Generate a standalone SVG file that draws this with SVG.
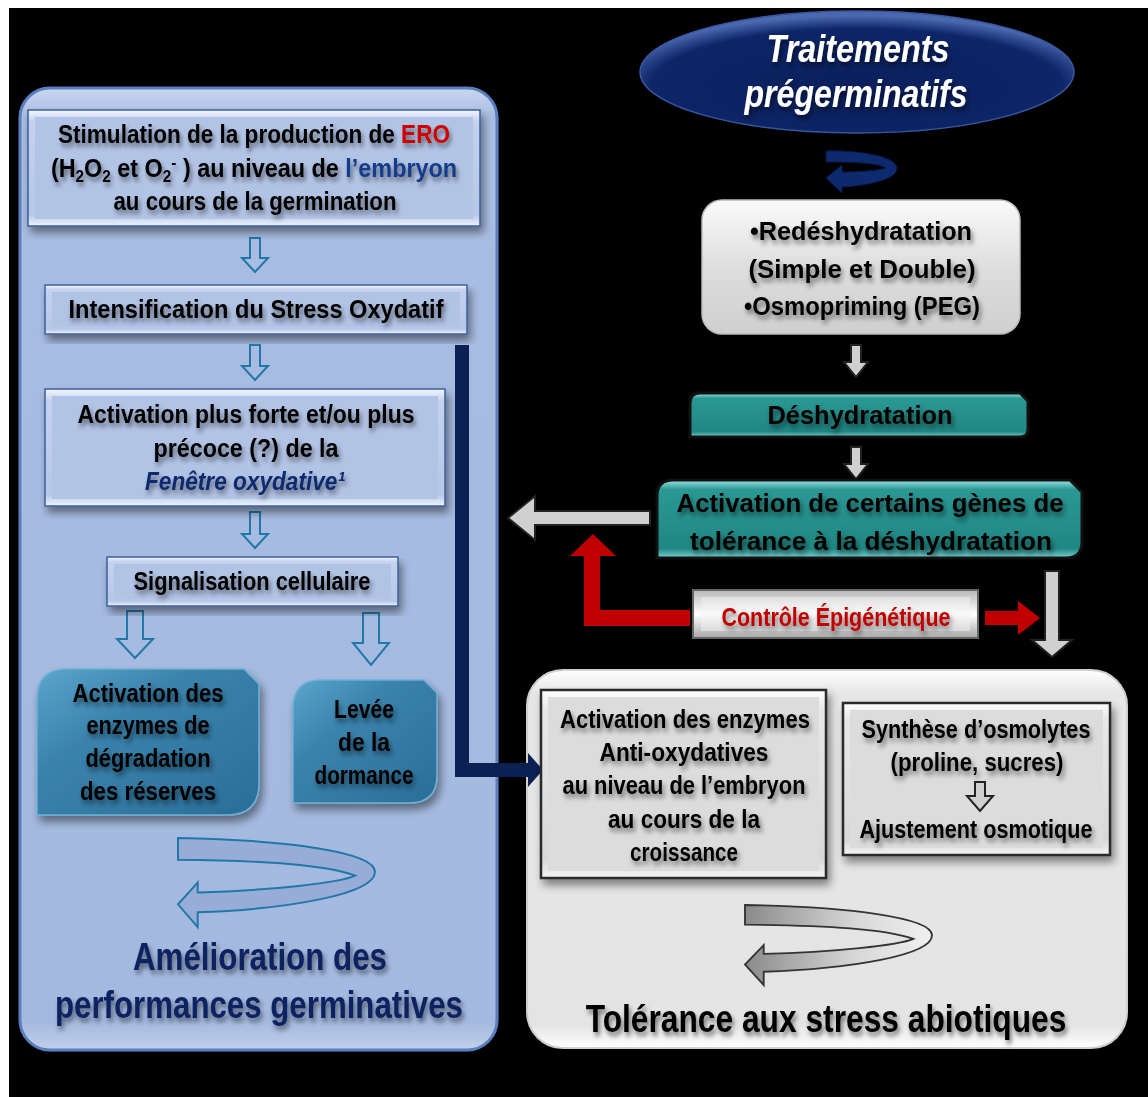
<svg xmlns="http://www.w3.org/2000/svg" width="1148" height="1097" viewBox="0 0 1148 1097">
<defs>
<style>
.t{font-family:"Comic Sans MS","Liberation Sans",sans-serif;font-size:26px;font-weight:bold;text-anchor:middle;fill:#000;filter:url(#ts);}
.big{font-size:38px;}
.bev{fill:url(#bevB);stroke:#3d5f99;stroke-width:1.5;}
.bevin{fill:#b2c4e6;}
.gbox{fill:url(#bevG);stroke:#2a2a2a;stroke-width:2.5;}
.gin{fill:#dcdcdc;}
.ho{fill:none;stroke:#2277aa;stroke-width:2;}
.ga{fill:#d0d0d0;stroke:#222;stroke-width:2;}
.red{fill:#c00000;}
.navy{fill:#0b2154;}
</style>
<filter id="ts" x="-10%" y="-40%" width="125%" height="190%">
<feGaussianBlur in="SourceAlpha" stdDeviation="2.5"/><feOffset dx="2" dy="4"/>
<feComponentTransfer><feFuncA type="linear" slope="0.5"/></feComponentTransfer>
<feMerge><feMergeNode/><feMergeNode in="SourceGraphic"/></feMerge></filter>
<filter id="bs" x="-10%" y="-10%" width="125%" height="130%">
<feGaussianBlur in="SourceAlpha" stdDeviation="4"/><feOffset dx="3" dy="6"/>
<feComponentTransfer><feFuncA type="linear" slope="0.45"/></feComponentTransfer>
<feMerge><feMergeNode/><feMergeNode in="SourceGraphic"/></feMerge></filter>
<linearGradient id="lpanel" x1="0" y1="0" x2="0" y2="1">
<stop offset="0" stop-color="#c9d6ef"/><stop offset="0.03" stop-color="#a9bde2"/><stop offset="0.97" stop-color="#a4b9df"/><stop offset="1" stop-color="#c0cfea"/></linearGradient>
<linearGradient id="rpanel" x1="0" y1="0" x2="0" y2="1">
<stop offset="0" stop-color="#ffffff"/><stop offset="0.06" stop-color="#e6e6e6"/><stop offset="0.94" stop-color="#e4e4e4"/><stop offset="1" stop-color="#ffffff"/></linearGradient>
<linearGradient id="bevB" x1="0" y1="0" x2="0" y2="1">
<stop offset="0" stop-color="#f2f6ff"/><stop offset="0.1" stop-color="#c4d2ee"/><stop offset="0.9" stop-color="#b6c7e7"/><stop offset="1" stop-color="#eef3ff"/></linearGradient>
<linearGradient id="bevG" x1="0" y1="0" x2="0" y2="1">
<stop offset="0" stop-color="#ffffff"/><stop offset="0.1" stop-color="#e8e8e8"/><stop offset="0.9" stop-color="#d8d8d8"/><stop offset="1" stop-color="#f4f4f4"/></linearGradient>
<linearGradient id="wbox" x1="0" y1="0" x2="0" y2="1">
<stop offset="0" stop-color="#fafafa"/><stop offset="0.5" stop-color="#dedede"/><stop offset="1" stop-color="#cfcfcf"/></linearGradient>
<linearGradient id="ctrl" x1="0" y1="0" x2="0" y2="1">
<stop offset="0" stop-color="#b8b8b8"/><stop offset="0.5" stop-color="#ffffff"/><stop offset="1" stop-color="#a8a8a8"/></linearGradient>
<linearGradient id="tealL" x1="0" y1="0" x2="1" y2="1">
<stop offset="0" stop-color="#5aa6cc"/><stop offset="0.35" stop-color="#3a83ad"/><stop offset="1" stop-color="#2a6e99"/></linearGradient>
<linearGradient id="tealR" x1="0" y1="0" x2="0" y2="1">
<stop offset="0" stop-color="#9ee6e6"/><stop offset="0.12" stop-color="#2a9894"/><stop offset="0.88" stop-color="#208783"/><stop offset="1" stop-color="#7fd2d2"/></linearGradient>
<radialGradient id="ell" cx="0.5" cy="0.62" r="0.58">
<stop offset="0" stop-color="#0a1f5c"/><stop offset="0.82" stop-color="#0d2668"/><stop offset="1" stop-color="#4a68b0"/></radialGradient>
<linearGradient id="gcurl" x1="0" y1="0" x2="1" y2="0">
<stop offset="0" stop-color="#8a8a8a"/><stop offset="0.6" stop-color="#d8d8d8"/><stop offset="1" stop-color="#f0f0f0"/></linearGradient>
<path id="curl" d="M0,0 C110,2 200,14 200,34 C200,57 110,72 20,75 L20,90 L0,67 L20,45 L20,55 C95,53 165,45 180,38 C150,27 90,23 0,22 Z"/>
</defs>

<rect x="0" y="0" width="1148" height="1097" fill="#ffffff"/>
<rect x="9" y="8" width="1139" height="1089" fill="#000000"/>

<g id="panel-left">
<rect x="20" y="88" width="477" height="962" rx="30" fill="url(#lpanel)" stroke="#5a7fbf" stroke-width="3" filter="url(#bs)"/>
<text class="t big" x="260" y="970" textLength="254" lengthAdjust="spacingAndGlyphs" style="fill:#0c2060">Amélioration des</text>
<text class="t big" x="259" y="1018" textLength="408" lengthAdjust="spacingAndGlyphs" style="fill:#0c2060">performances germinatives</text>
</g>

<g id="panel-right">
<rect x="527" y="670" width="600" height="378" rx="36" fill="url(#rpanel)" stroke="#cfcfcf" stroke-width="2" filter="url(#bs)"/>
<text class="t big" transform="translate(826,1032) scale(0.835,1)" x="0" y="0">Tolérance aux stress abiotiques</text>
</g>

<g id="connectors">
<path class="ho" d="M250,238 h10 v20 h8 l-13,14 l-13,-14 h8 z"/>
<path class="ho" d="M250,345 h10 v21 h8 l-13,14 l-13,-14 h8 z"/>
<path class="ho" d="M250,512 h10 v22 h8 l-13,14 l-13,-14 h8 z"/>
<path class="ho" d="M127,611 h16 v28 h10 l-18,19 l-18,-19 h10 z"/>
<path class="ho" d="M363,613 h16 v30 h10 l-18,22 l-18,-22 h10 z"/>
<use href="#curl" transform="translate(178,838) scale(0.985,0.99)" fill="#97acd6" stroke="#2277aa" stroke-width="2"/>
<use href="#curl" transform="translate(745,905) scale(0.935,0.89)" fill="url(#gcurl)" stroke="#333" stroke-width="2"/>
<path d="M826,151 C862,150 897,157 897,168 C897,181 862,186 842,187 L842,193 L826,178 L842,165 L842,172 C862,172 880,170 886,168 C878,163 855,162 826,162 Z" fill="#0d2a6e" stroke="#061848" stroke-width="1"/>
<path class="ga" d="M851,345 h10 v17 h7 l-12,15 l-12,-15 h7 z"/>
<path class="ga" d="M851,447 h10 v17 h7 l-12,15 l-12,-15 h7 z"/>
<path class="ga" d="M650,511 v14 h-115 v15 l-27,-22 l27,-22 v15 z"/>
<path class="ga" d="M1045,571 h14 v69 h13 l-20,17 l-20,-17 h13 z"/>
<path class="red" d="M690,610 v16 h-106 v-70 h-14 l23,-22 l23,22 h-16 v54 h90 z"/>
<path class="red" d="M985,611 h33 v-10 l22,17 l-22,17 v-10 h-33 z"/>
<path class="navy" d="M455,345 h14 v418 h59 v-10 l15,17 l-15,17 v-10 h-73 z"/>
</g>

<g id="node-traitements">
<ellipse cx="857" cy="72" rx="217" ry="61" fill="url(#ell)" stroke="#3a55a0" stroke-width="1.5"/>
<text class="t big" x="858" y="62" font-style="italic" textLength="183" lengthAdjust="spacingAndGlyphs" style="fill:#ffffff">Traitements</text>
<text class="t big" x="856" y="107" font-style="italic" textLength="223" lengthAdjust="spacingAndGlyphs" style="fill:#ffffff">prégerminatifs</text>
</g>

<g id="node-redeshydratation">
<rect x="702" y="200" width="318" height="134" rx="20" fill="url(#wbox)" stroke="#bbbbbb" stroke-width="1.5"/>
<text class="t" x="861" y="240" font-size="28" textLength="222" lengthAdjust="spacingAndGlyphs">•Redéshydratation</text>
<text class="t" x="862" y="278" font-size="28" textLength="227" lengthAdjust="spacingAndGlyphs">(Simple et Double)</text>
<text class="t" x="862" y="315" font-size="28" textLength="236" lengthAdjust="spacingAndGlyphs">•Osmopriming (PEG)</text>
</g>

<g id="node-deshydratation">
<path d="M690,437 L690,403 Q690,393 700,393 L1020,393 L1028,401 L1028,429 Q1028,437 1020,437 Z" fill="url(#tealR)" stroke="#111" stroke-width="3"/>
<text class="t" x="860" y="424" font-size="28" textLength="185" lengthAdjust="spacingAndGlyphs">Déshydratation</text>
</g>

<g id="node-activation-genes">
<path d="M657,558 L657,496 Q657,480 673,480 L1070,480 L1082,492 L1082,542 Q1082,558 1066,558 Z" fill="url(#tealR)" stroke="#111" stroke-width="3"/>
<text class="t" x="870" y="512" font-size="28" textLength="387" lengthAdjust="spacingAndGlyphs">Activation de certains gènes de</text>
<text class="t" x="871" y="550" font-size="28" textLength="362" lengthAdjust="spacingAndGlyphs">tolérance à la déshydratation</text>
</g>

<g id="node-controle">
<rect x="693" y="590" width="285" height="48" fill="url(#ctrl)" stroke="#666" stroke-width="2"/>
<rect x="701" y="597" width="269" height="34" fill="#f4f4f4" opacity="0.5"/>
<text class="t" x="836" y="626" font-size="24" textLength="229" lengthAdjust="spacingAndGlyphs" style="fill:#c00000">Contrôle Épigénétique</text>
</g>

<g id="node-stimulation">
<rect class="bev" x="28" y="110" width="452" height="116" filter="url(#bs)"/>
<rect class="bevin" x="35" y="117" width="438" height="102"/>
<text class="t" transform="translate(254,143) scale(0.867,1)" x="0" y="0">Stimulation de la production de <tspan style="fill:#d00000">ERO</tspan></text>
<text class="t" transform="translate(254,177) scale(0.9,1)" x="0" y="0">(H<tspan font-size="17" baseline-shift="-5">2</tspan>O<tspan font-size="17" baseline-shift="-5">2</tspan>  et O<tspan font-size="17" baseline-shift="-5">2</tspan><tspan font-size="17" baseline-shift="9">-</tspan> ) au niveau de <tspan style="fill:#123a8a">l’embryon</tspan></text>
<text class="t" x="255" y="210" textLength="283" lengthAdjust="spacingAndGlyphs">au cours de la germination</text>
</g>

<g id="node-intensification">
<rect class="bev" x="45" y="285" width="422" height="49" filter="url(#bs)"/>
<rect class="bevin" x="52" y="292" width="408" height="35"/>
<text class="t" x="256" y="318" textLength="375" lengthAdjust="spacingAndGlyphs">Intensification du Stress Oxydatif</text>
</g>

<g id="node-activation-fenetre">
<rect class="bev" x="45" y="389" width="400" height="117" filter="url(#bs)"/>
<rect class="bevin" x="52" y="396" width="386" height="103"/>
<text class="t" x="246" y="423" textLength="337" lengthAdjust="spacingAndGlyphs">Activation plus forte et/ou plus</text>
<text class="t" x="246" y="457" textLength="185" lengthAdjust="spacingAndGlyphs">précoce (?) de la</text>
<text class="t" x="245" y="490" font-style="italic" textLength="200" lengthAdjust="spacingAndGlyphs" style="fill:#0c2a6e">Fenêtre oxydative¹</text>
</g>

<g id="node-signalisation">
<rect class="bev" x="107" y="557" width="291" height="49" filter="url(#bs)"/>
<rect class="bevin" x="114" y="564" width="277" height="35"/>
<text class="t" x="252" y="590" textLength="237" lengthAdjust="spacingAndGlyphs">Signalisation cellulaire</text>
</g>

<g id="node-degradation">
<path d="M37,815 L37,699 Q37,669 67,669 L244,669 L259,684 L259,783 Q259,815 227,815 Z" fill="url(#tealL)" stroke="#6fb0d6" stroke-width="1.5" filter="url(#bs)"/>
<text class="t" x="148" y="702" textLength="151" lengthAdjust="spacingAndGlyphs">Activation des</text>
<text class="t" x="148" y="734" textLength="123" lengthAdjust="spacingAndGlyphs">enzymes de</text>
<text class="t" x="148" y="767" textLength="125" lengthAdjust="spacingAndGlyphs">dégradation</text>
<text class="t" x="148" y="800" textLength="136" lengthAdjust="spacingAndGlyphs">des réserves</text>
</g>

<g id="node-levee">
<path d="M293,803 L293,708 Q293,680 321,680 L424,680 L437,693 L437,775 Q437,803 409,803 Z" fill="url(#tealL)" stroke="#6fb0d6" stroke-width="1.5" filter="url(#bs)"/>
<text class="t" x="364" y="718" textLength="60" lengthAdjust="spacingAndGlyphs">Levée</text>
<text class="t" x="364" y="751" textLength="52" lengthAdjust="spacingAndGlyphs">de la</text>
<text class="t" x="364" y="784" textLength="99" lengthAdjust="spacingAndGlyphs">dormance</text>
</g>

<g id="node-antioxydatives">
<rect class="gbox" x="541" y="690" width="285" height="188" filter="url(#bs)"/>
<rect class="gin" x="548" y="697" width="271" height="174"/>
<text class="t" x="685" y="728" textLength="250" lengthAdjust="spacingAndGlyphs">Activation des enzymes</text>
<text class="t" x="684" y="761" textLength="169" lengthAdjust="spacingAndGlyphs">Anti-oxydatives</text>
<text class="t" x="684" y="794" textLength="243" lengthAdjust="spacingAndGlyphs">au niveau de l’embryon</text>
<text class="t" x="684" y="828" textLength="152" lengthAdjust="spacingAndGlyphs">au cours de la</text>
<text class="t" x="684" y="861" textLength="108" lengthAdjust="spacingAndGlyphs">croissance</text>
</g>

<g id="node-osmolytes">
<rect class="gbox" x="843" y="703" width="267" height="152" filter="url(#bs)"/>
<rect class="gin" x="850" y="710" width="253" height="138"/>
<text class="t" x="976" y="738" textLength="229" lengthAdjust="spacingAndGlyphs">Synthèse d’osmolytes</text>
<text class="t" x="977" y="771" textLength="173" lengthAdjust="spacingAndGlyphs">(proline, sucres)</text>
<path class="ga" d="M975,782 h10 v14 h8 l-13,15 l-13,-15 h8 z" fill="#bdbdbd"/>
<text class="t" x="976" y="838" textLength="233" lengthAdjust="spacingAndGlyphs">Ajustement osmotique</text>
</g>
</svg>
